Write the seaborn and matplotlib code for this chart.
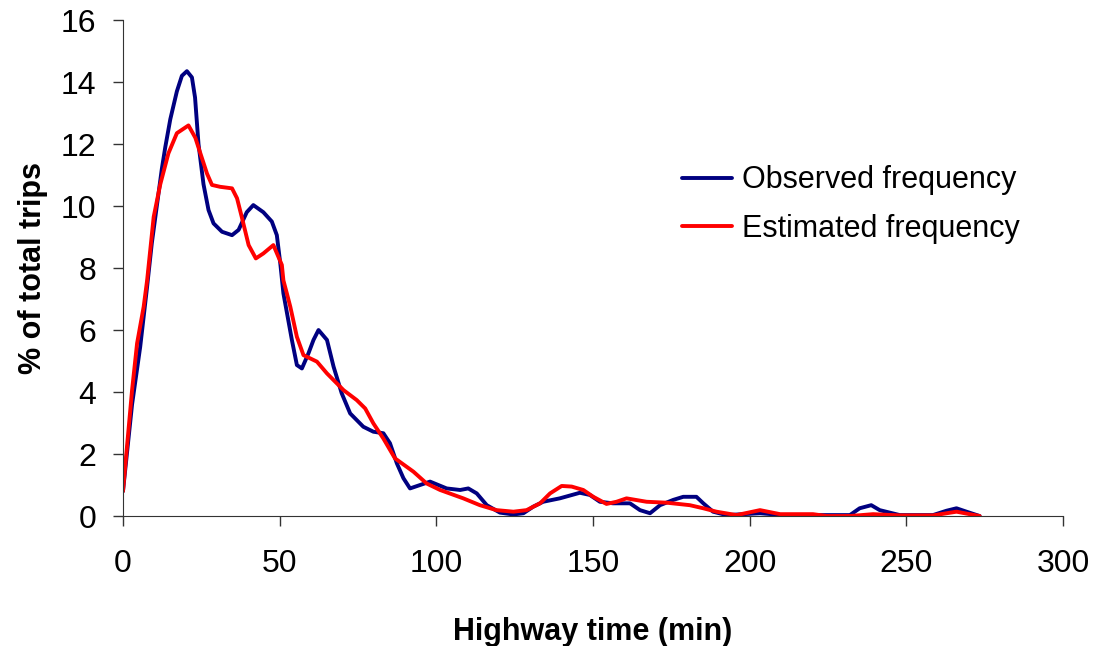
import pandas as pd
import seaborn as sns
import matplotlib.pyplot as plt

# observed frequency
obs_time = [0, 2.9, 5.5, 7.7, 9.2, 10.8, 12.4, 13.5, 15.1, 17.2, 18.8, 20.4, 22, 23, 24.1,
            25.7, 27.3, 28.9, 31.6, 34.8, 36.9, 39.5, 41.6, 44.8, 47.5, 49.1, 50.2, 51.2,
            53.9, 55.5, 57.1, 59.2, 60.8, 62.4, 65.1, 67.2, 69.8, 72.5, 76.7, 79.9, 83.1,
            85.2, 87.4, 89.5, 91.6, 94.8, 98, 103.3, 107.6, 110.2, 112.9, 116.1, 120.3,
            124.6, 127.8, 130.9, 134.1, 139.4, 145.8, 149, 152.2, 156.4, 161.8, 165,
            168.2, 171.4, 175.6, 178.8, 183, 185.2, 188.3, 192.6, 203.3, 210.6, 232,
            235.1, 238.8, 241.5, 247.9, 258.5, 262.8, 266, 269.2, 273.4]
obs_pct = [0.8, 3.6, 5.46, 7.4, 8.8, 10, 11.2, 11.9, 12.8, 13.7, 14.2, 14.35, 14.15, 13.5, 12.0,
           10.7, 9.87, 9.44, 9.17, 9.06, 9.23, 9.8, 10.03, 9.8, 9.5, 9.06, 8.15, 7.18,
           5.68, 4.87, 4.76, 5.25, 5.68, 6.0, 5.68, 4.82, 3.96, 3.31, 2.88, 2.72, 2.67,
           2.35, 1.70, 1.22, 0.89, 1.0, 1.11, 0.89, 0.84, 0.89, 0.73, 0.35, 0.11,
           0.05, 0.09, 0.3, 0.46, 0.57, 0.75, 0.68, 0.46, 0.41, 0.41, 0.19,
           0.09, 0.35, 0.52, 0.62, 0.62, 0.41, 0.14, 0.03, 0.09, 0.03, 0.03,
           0.25, 0.35, 0.19, 0.03, 0.03, 0.17, 0.25, 0.14, 0.0]

# estimated frequency
est_time = [0, 2.9, 4.5, 6.6, 7.7, 9.8, 11.9, 14.5, 17.2, 20.9, 23.1, 24.7, 26.8, 28.4, 31,
            34.8, 36.4, 37.9, 40.1, 42.4, 44.8, 48, 50.7, 51.2, 52.3, 53.4, 55.5, 57.6,
            61.9, 65.1, 70.4, 74.6, 77.3, 79.9, 83.1, 86.8, 92.7, 96.9, 101.2, 108.6,
            113.9, 119.2, 124.6, 128.8, 133.1, 136.3, 140, 143.2, 146.9, 150.1, 154.3,
            157.5, 160.7, 167.1, 173.5, 180.9, 185.2, 189.4, 195.8, 203.3, 209.7, 220.2,
            224.5, 232, 239.4, 247.9, 258.5, 266, 270.2, 273.4]
est_pct = [0.8, 4.06, 5.57, 6.75, 7.6, 9.65, 10.7, 11.7, 12.35, 12.6, 12.2, 11.7, 11.05, 10.68, 10.62,
           10.57, 10.25, 9.65, 8.74, 8.31, 8.47, 8.74, 8.1, 7.6, 7.18, 6.75, 5.78, 5.19,
           4.98, 4.6, 4.06, 3.74, 3.47, 2.99, 2.5, 1.86, 1.43, 1.05, 0.84, 0.57,
           0.35, 0.19, 0.14, 0.19, 0.41, 0.73, 0.97, 0.95, 0.84, 0.62, 0.39,
           0.46, 0.57, 0.46, 0.43, 0.35, 0.25, 0.14, 0.03, 0.19, 0.06, 0.06,
           0, 0, 0.06, 0.02, 0.02, 0.14, 0.06, 0]

df = pd.concat([
    pd.DataFrame({"time": obs_time, "pct": obs_pct, "series": "Observed frequency"}),
    pd.DataFrame({"time": est_time, "pct": est_pct, "series": "Estimated frequency"}),
])

sns.set_style("ticks")
plt.rcParams['font.family'] = ['Liberation Sans', 'DejaVu Sans']
plt.rcParams['text.color'] = 'black'
plt.rcParams['axes.labelcolor'] = 'black'

fig = plt.figure(figsize=(11.01, 6.46), dpi=100)
ax = fig.add_axes([0.1117, 0.2012, 0.8538, 0.7678])

sns.lineplot(data=df, x="time", y="pct", hue="series", estimator=None, sort=False,
             palette={"Observed frequency": "#000080", "Estimated frequency": "#FF0000"},
             linewidth=2.8, ax=ax)

ax.set_xlim(0, 300)
ax.set_ylim(0, 16)
ax.set_xticks(range(0, 301, 50))
ax.set_yticks(range(0, 17, 2))
ax.tick_params(labelsize=23, length=7, width=1, colors="#333333", labelcolor="black")
ax.tick_params(axis="x", pad=17)
ax.tick_params(axis="y", pad=12)
sns.despine(ax=ax)
ax.spines['left'].set_color("#333333")
ax.spines['bottom'].set_color("#333333")

ax.set_xlabel("Highway time (min)", fontsize=22, fontweight="bold", labelpad=27)
ax.set_ylabel("% of total trips", fontsize=22, fontweight="bold", labelpad=9)

ax.legend(title=None, frameon=False, fontsize=22, loc="center left",
          bbox_to_anchor=(0.565, 0.628), handlelength=1.64, handletextpad=0.33,
          labelspacing=0.6)

fig.savefig("out.png", dpi=100)
